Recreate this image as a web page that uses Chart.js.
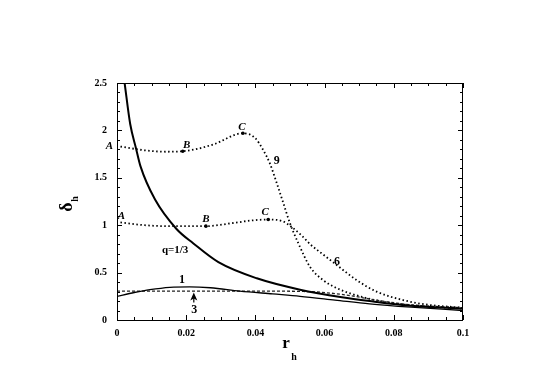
<!DOCTYPE html>
<html>
<head>
<meta charset="utf-8">
<script src="https://cdn.jsdelivr.net/npm/chart.js@4.4.0/dist/chart.umd.min.js"></script>
<style>
  body { margin: 0; background: #fff; }
</style>
</head>
<body>
<canvas id="myChart" width="545" height="380"></canvas>
<script>
// q = 1/3 curve
const rQ = [0.0022, 0.0038, 0.0055, 0.0068, 0.011, 0.0172, 0.022, 0.0293, 0.0404, 0.0529, 0.065, 0.073, 0.085, 0.1];
const deltaQ = [2.5, 2.07, 1.81, 1.62, 1.27, 0.96, 0.81, 0.61, 0.44, 0.32, 0.24, 0.20, 0.15, 0.12];

// curve 1
const r1 = [0, 0.005, 0.0095, 0.0153, 0.021, 0.027, 0.0355, 0.045, 0.0529, 0.063, 0.073, 0.085, 0.1];
const delta1 = [0.25, 0.29, 0.32, 0.345, 0.35, 0.34, 0.305, 0.275, 0.25, 0.21, 0.17, 0.135, 0.10];

// curve 3
const r3 = [0, 0.02, 0.04, 0.055, 0.065, 0.075, 0.085, 0.1];
const delta3 = [0.305, 0.305, 0.305, 0.30, 0.27, 0.21, 0.16, 0.13];

// curve 9
const r9 = [0.001, 0.008, 0.014, 0.019, 0.0277, 0.0364, 0.0399, 0.0423, 0.0442, 0.0462, 0.0481, 0.05, 0.0524, 0.0558, 0.0596, 0.0645, 0.0702, 0.076, 0.0837, 0.1];
const delta9 = [1.83, 1.79, 1.775, 1.78, 1.85, 1.97, 1.92, 1.79, 1.65, 1.44, 1.23, 1.02, 0.81, 0.56, 0.42, 0.32, 0.25, 0.20, 0.16, 0.12];

// curve 6
const r6 = [0.001, 0.008, 0.015, 0.0257, 0.033, 0.039, 0.0437, 0.048, 0.0505, 0.0534, 0.0558, 0.0596, 0.0635, 0.0693, 0.075, 0.0827, 0.09, 0.1];
const delta6 = [1.03, 1.0, 0.99, 0.99, 1.02, 1.05, 1.06, 1.04, 0.98, 0.89, 0.80, 0.69, 0.58, 0.42, 0.30, 0.21, 0.16, 0.13];

// marked points B and C
const markR = [0.019, 0.0364, 0.0257, 0.0437];
const markDelta = [1.78, 1.97, 0.99, 1.06];
const markNames = ['B', 'C', 'B', 'C'];

const xTicks = [0, 0.02, 0.04, 0.06, 0.08, 0.1];
const yTicks = [0, 0.5, 1, 1.5, 2, 2.5];

const FONT = '"Liberation Serif", "Times New Roman", serif';

function zip(xs, ys) {
    return xs.map((x, i) => ({ x: x, y: ys[i] }));
}
function isMajor(v, list) {
    return list.some(t => Math.abs(t - v) < 1e-6);
}

const lineBase = { borderColor: '#000', pointRadius: 0, fill: false, tension: 0.35, cubicInterpolationMode: 'monotone' };

const data = {
    datasets: [
        Object.assign({ label: 'q=1/3', data: zip(rQ, deltaQ), borderWidth: 2 }, lineBase),
        Object.assign({ label: '1', data: zip(r1, delta1), borderWidth: 1.3 }, lineBase),
        Object.assign({ label: '3', data: zip(r3, delta3), borderWidth: 1.3, borderDash: [3, 2] }, lineBase, { borderColor: '#222' }),
        Object.assign({ label: '9', data: zip(r9, delta9), borderWidth: 1.8, borderDash: [1.5, 2.5] }, lineBase),
        Object.assign({ label: '6', data: zip(r6, delta6), borderWidth: 1.8, borderDash: [1.5, 2.5] }, lineBase),
        { label: 'marks', data: zip(markR, markDelta), showLine: false, pointRadius: 1.8, pointBackgroundColor: '#000', pointBorderWidth: 0 }
    ]
};

// annotations: [text, r, delta, font]
const notes = [
    ['9', 0.0462, 1.68, 'bold 12px ' + FONT],
    ['6', 0.0636, 0.61, 'bold 12px ' + FONT],
    ['1', 0.0188, 0.42, 'bold 12px ' + FONT],
    ['3', 0.0223, 0.105, 'bold 12px ' + FONT],
    ['q=1/3', 0.0168, 0.74, 'bold 11px ' + FONT]
];
// letter labels offset from their point, in px
const letterOffsets = [[4, -6], [-1, -6], [0, -7], [-3, -7]];

const decor = {
    id: 'decor',
    afterDraw(chart) {
        const c = chart.ctx;
        const a = chart.chartArea;
        const xs = chart.scales.x, ys = chart.scales.y;
        c.save();
        c.strokeStyle = '#000';
        c.lineWidth = 1;
        c.strokeRect(a.left + 0.5, a.top + 0.5, a.right - a.left - 1, a.bottom - a.top);
        // inward ticks
        c.beginPath();
        xs.ticks.forEach(t => {
            const px = Math.round(xs.getPixelForValue(t.value)) + 0.5;
            const len = isMajor(t.value, xTicks) ? 5 : 3;
            c.moveTo(px, a.bottom); c.lineTo(px, a.bottom - len);
            c.moveTo(px, a.top); c.lineTo(px, a.top + len);
        });
        ys.ticks.forEach(t => {
            const py = Math.round(ys.getPixelForValue(t.value)) + 0.5;
            const len = isMajor(t.value, yTicks) ? 5 : 3;
            c.moveTo(a.left, py); c.lineTo(a.left + len, py);
            c.moveTo(a.right, py); c.lineTo(a.right - len, py);
        });
        c.stroke();

        c.fillStyle = '#000';
        c.textAlign = 'center';
        c.textBaseline = 'middle';
        notes.forEach(n => {
            c.font = n[3];
            c.fillText(n[0], xs.getPixelForValue(n[1]), ys.getPixelForValue(n[2]));
        });
        c.font = 'italic bold 11px ' + FONT;
        markR.forEach((r, i) => {
            c.fillText(markNames[i], xs.getPixelForValue(r) + letterOffsets[i][0], ys.getPixelForValue(markDelta[i]) + letterOffsets[i][1]);
        });
        // A labels at the starting points of curves 9 and 6
        c.fillText('A', xs.getPixelForValue(r9[0]) - 11, ys.getPixelForValue(delta9[0]));
        c.fillText('A', xs.getPixelForValue(r6[0]) + 1, ys.getPixelForValue(delta6[0]) - 6);

        // arrow pointing at curve 3
        const ax = xs.getPixelForValue(0.0222);
        const ay = ys.getPixelForValue(0.28);
        c.beginPath();
        c.moveTo(ax, ay + 9); c.lineTo(ax, ay + 2);
        c.lineWidth = 1.2;
        c.stroke();
        c.beginPath();
        c.moveTo(ax, ay - 1); c.lineTo(ax - 3.5, ay + 7); c.lineTo(ax, ay + 5); c.lineTo(ax + 3.5, ay + 7);
        c.closePath();
        c.fill();

        // axis titles
        c.font = 'bold 17px ' + FONT;
        c.fillText('r', 286, 344);
        c.font = 'bold 10px ' + FONT;
        c.fillText('h', 294, 357);
        c.translate(67, 207);
        c.rotate(-Math.PI / 2);
        c.font = 'bold 18px ' + FONT;
        c.fillText('δ', 0, 0);
        c.font = 'bold 10px ' + FONT;
        c.fillText('h', 8, 8);
        c.restore();
    }
};

const config = {
    type: 'line',
    data: data,
    options: {
        responsive: false,
        animation: false,
        devicePixelRatio: 1,
        layout: { padding: { left: 0, top: 83, right: 82, bottom: 0 } },
        plugins: { legend: { display: false }, tooltip: { enabled: false } },
        scales: {
            x: {
                type: 'linear',
                min: 0,
                max: 0.1,
                grid: { display: false, drawTicks: false },
                border: { display: false },
                afterFit: s => { s.height = 60; },
                ticks: {
                    stepSize: 0.005,
                    autoSkip: false,
                    maxRotation: 0,
                    padding: 7,
                    color: '#000',
                    font: { family: FONT, size: 10, weight: 'bold' },
                    callback: v => isMajor(v, xTicks) ? String(+v.toFixed(3)) : ''
                }
            },
            y: {
                min: 0,
                max: 2.5,
                grid: { display: false, drawTicks: false },
                border: { display: false },
                afterFit: s => { s.width = 117; },
                ticks: {
                    stepSize: 0.1,
                    autoSkip: false,
                    padding: 10,
                    color: '#000',
                    font: { family: FONT, size: 10, weight: 'bold' },
                    callback: v => isMajor(v, yTicks) ? String(+v.toFixed(2)) : ''
                }
            }
        }
    },
    plugins: [decor]
};

const myChart = new Chart(document.getElementById('myChart').getContext('2d'), config);
</script>
</body>
</html>
